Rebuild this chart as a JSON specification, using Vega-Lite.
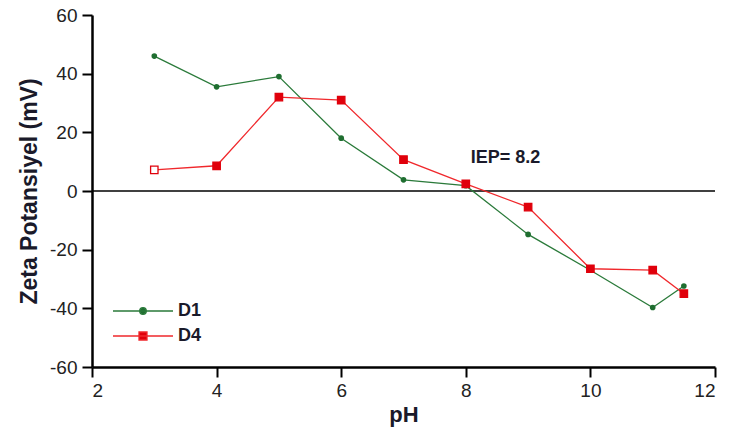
{
  "$schema": "https://vega.github.io/schema/vega-lite/v6.json",
  "width": 623,
  "height": 352,
  "autosize": {"type": "none"},
  "padding": {"left": 92, "top": 15, "right": 14, "bottom": 62},
  "background": "white",
  "config": {
    "view": {"stroke": null},
    "font": "Liberation Sans",
    "axis": {"grid": false, "domainColor": "black", "domainWidth": 2.5, "tickColor": "black", "tickWidth": 2, "tickSize": 10, "labelFont": "Liberation Sans", "labelFontSize": 19, "labelColor": "#222", "titleFont": "Liberation Sans", "titleFontWeight": "bold", "titleColor": "#1a1a2a"}
  },
  "datasets": {
    "zeta": [
      {"pH": 3, "z": 46, "s": "D1"},
      {"pH": 4, "z": 35.5, "s": "D1"},
      {"pH": 5, "z": 39, "s": "D1"},
      {"pH": 6, "z": 18, "s": "D1"},
      {"pH": 7, "z": 3.8, "s": "D1"},
      {"pH": 8, "z": 1.8, "s": "D1"},
      {"pH": 9, "z": -14.8, "s": "D1"},
      {"pH": 10, "z": -27, "s": "D1"},
      {"pH": 11, "z": -39.7, "s": "D1"},
      {"pH": 11.5, "z": -32.4, "s": "D1"},
      {"pH": 3, "z": 7.2, "s": "D4"},
      {"pH": 4, "z": 8.6, "s": "D4"},
      {"pH": 5, "z": 32, "s": "D4"},
      {"pH": 6, "z": 31, "s": "D4"},
      {"pH": 7, "z": 10.7, "s": "D4"},
      {"pH": 8, "z": 2.4, "s": "D4"},
      {"pH": 9, "z": -5.5, "s": "D4"},
      {"pH": 10, "z": -26.5, "s": "D4"},
      {"pH": 11, "z": -27, "s": "D4"},
      {"pH": 11.5, "z": -35, "s": "D4"}
    ]
  },
  "layer": [
    {
      "data": {"values": [{"z": 0}]},
      "mark": {"type": "rule", "color": "black", "strokeWidth": 1.3},
      "encoding": {"y": {"field": "z", "type": "quantitative", "scale": {"domain": [-60, 60]}}}
    },
    {
      "data": {"name": "zeta"},
      "mark": {"type": "line", "strokeWidth": 1.3},
      "encoding": {
        "x": {"field": "pH", "type": "quantitative", "scale": {"domain": [2, 12]}, "axis": {"values": [2, 4, 6, 8, 10, 12], "format": "d", "title": "pH", "titleFontSize": 22, "titlePadding": 4, "labelPadding": 4}},
        "y": {"field": "z", "type": "quantitative", "scale": {"domain": [-60, 60]}, "axis": {"values": [-60, -40, -20, 0, 20, 40, 60], "labelExpr": "datum.value < 0 ? '-' + abs(datum.value) : '' + datum.value", "title": "Zeta Potansiyel (mV)", "titleFontSize": 23, "titlePadding": 8, "labelPadding": 5}},
        "color": {"field": "s", "type": "nominal", "scale": {"domain": ["D1", "D4"], "range": ["#2a7a3a", "#f0282c"]},
          "legend": {"orient": "none", "legendX": 40, "legendY": 285, "title": null, "padding": 0, "symbolSize": 400, "symbolStrokeWidth": 1.3, "rowPadding": 5, "labelFont": "Liberation Sans", "labelFontSize": 18, "labelFontWeight": "bold", "labelColor": "#1a1a2a", "labelOffset": 24, "symbolOpacity": 1,
            "encode": {"symbols": {"update": {
              "shape": {"signal": "datum.value == 'D1' ? 'M-3,0H3M-0.33,0a0.33,0.33 0 1,0 0.66,0a0.33,0.33 0 1,0 -0.66,0' : 'M-3,0H3M-0.4,-0.4H0.4V0.4H-0.4Z'"},
              "stroke": {"signal": "datum.value == 'D1' ? '#2a7a3a' : '#f0282c'"},
              "fill": {"signal": "datum.value == 'D1' ? '#1f6e30' : '#e0000b'"},
              "strokeWidth": {"value": 1.3}
            }}}}}
      }
    },
    {
      "data": {"name": "zeta"},
      "transform": [{"filter": "datum.s == 'D1'"}],
      "mark": {"type": "point", "shape": "circle", "filled": true, "opacity": 1, "size": 32, "color": "#1f6e30"},
      "encoding": {
        "x": {"field": "pH", "type": "quantitative"},
        "y": {"field": "z", "type": "quantitative"}
      }
    },
    {
      "data": {"name": "zeta"},
      "transform": [{"filter": "datum.s == 'D4'"}],
      "mark": {"type": "point", "shape": "square", "opacity": 1, "size": 55, "stroke": "#e0000b", "strokeWidth": 1.3},
      "encoding": {
        "x": {"field": "pH", "type": "quantitative"},
        "y": {"field": "z", "type": "quantitative"},
        "fill": {"condition": {"test": "datum.pH == 3", "value": "white"}, "value": "#e0000b"}
      }
    },
    {
      "data": {"values": [{"pH": 8.08, "z": 11.4, "label": "IEP= 8.2"}]},
      "mark": {"type": "text", "align": "left", "baseline": "middle", "fontSize": 18, "fontWeight": "bold", "color": "#1a1a2a", "font": "Liberation Sans"},
      "encoding": {"x": {"field": "pH", "type": "quantitative"}, "y": {"field": "z", "type": "quantitative"}, "text": {"field": "label"}}
    }
  ]
}
